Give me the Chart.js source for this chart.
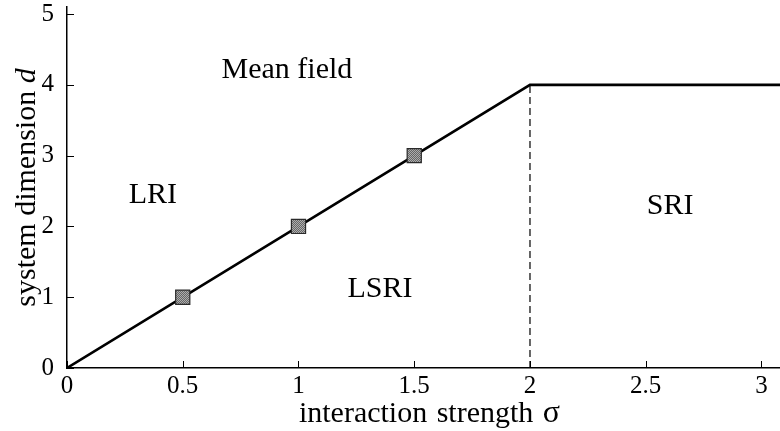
<!DOCTYPE html>
<html>
<head>
<meta charset="utf-8">
<script src="https://cdn.jsdelivr.net/npm/chart.js@4.4.1/dist/chart.umd.min.js"></script>
<style>
  html, body { margin: 0; padding: 0; background: #fff; overflow: hidden; }
  #c { display: block; }
</style>
</head>
<body>
<canvas id="c" width="780" height="431"></canvas>
<script>
// ---- data ----
const boundarySigma = [0, 2, 3.1];
const boundaryD = [0, 4, 4];
const markerSigma = [0.5, 1, 1.5];
const markerD = [1, 2, 3];
const dividerSigma = [2, 2];
const dividerD = [0, 4];
const xTickValues = [0, 0.5, 1, 1.5, 2, 2.5, 3];
const yTickValues = [0, 1, 2, 3, 4, 5];
const regionNames = ["Mean field", "LRI", "SRI", "LSRI"];
const regionSigma = [0.950, 0.371, 2.605, 1.352];
const regionD = [4.10, 2.33, 2.18, 1.00];
const xTitleWords = ["interaction", "strength", "σ"];
const yTitleWords = ["system", "dimension", "d"];

const FONT = "'Liberation Serif', 'Times New Roman', serif";

function toPts(xs, ys) { return xs.map((x, i) => ({ x: x, y: ys[i] })); }

// dithered gray fill for markers
const pc = document.createElement('canvas');
pc.width = 2; pc.height = 2;
const pctx = pc.getContext('2d');
pctx.fillStyle = '#666666'; pctx.fillRect(0, 0, 2, 2);
pctx.fillStyle = '#adadad'; pctx.fillRect(0, 0, 1, 1); pctx.fillRect(1, 1, 1, 1);
const markerFill = pctx.createPattern(pc, 'repeat');

// draw words centred on (0,0) in the current transform; gap = extra space after normal space
function drawWords(ctx, words, fonts, extraGap) {
  ctx.font = fonts[0];
  const space = ctx.measureText(' ').width;
  const gap = space + extraGap;
  const widths = words.map((w, i) => { ctx.font = fonts[i]; return ctx.measureText(w).width; });
  const total = widths.reduce((a, b) => a + b, 0) + gap * (words.length - 1);
  let x = -total / 2;
  ctx.textAlign = 'left';
  words.forEach((w, i) => {
    ctx.font = fonts[i];
    ctx.fillText(w, x, 0);
    x += widths[i] + gap;
  });
}

const decorPlugin = {
  id: 'decor',
  afterDraw(chart) {
    const ctx = chart.ctx;
    const xs = chart.scales.x, ys = chart.scales.y;
    const area = chart.chartArea;
    ctx.save();
    // inward tick marks
    ctx.strokeStyle = '#000';
    ctx.lineWidth = 1;
    xs.ticks.forEach(t => {
      const px = Math.round(xs.getPixelForValue(t.value)) + 0.5;
      ctx.beginPath(); ctx.moveTo(px, area.bottom); ctx.lineTo(px, area.bottom - 7); ctx.stroke();
    });
    ys.ticks.forEach(t => {
      const py = Math.round(ys.getPixelForValue(t.value)) + 0.5;
      ctx.beginPath(); ctx.moveTo(area.left, py); ctx.lineTo(area.left + 7, py); ctx.stroke();
    });
    // region labels
    ctx.fillStyle = '#000';
    ctx.font = '30px ' + FONT;
    ctx.textAlign = 'center';
    ctx.textBaseline = 'alphabetic';
    regionNames.forEach((n, i) => {
      ctx.fillText(n, xs.getPixelForValue(regionSigma[i]), ys.getPixelForValue(regionD[i]));
    });
    // x title
    ctx.save();
    ctx.translate((area.left + area.right) / 2 + 6, 422);
    drawWords(ctx, xTitleWords, ['30px ' + FONT, '30px ' + FONT, '32px ' + FONT], 2);
    ctx.restore();
    // y title (italic d)
    ctx.save();
    ctx.translate(35, (area.top + area.bottom) / 2);
    ctx.rotate(-Math.PI / 2);
    drawWords(ctx, yTitleWords, ['30px ' + FONT, '30px ' + FONT, 'italic 30px ' + FONT], 0);
    ctx.restore();
    ctx.restore();
  }
};

new Chart(document.getElementById('c'), {
  type: 'scatter',
  data: {
    datasets: [
      {
        data: toPts(markerSigma, markerD),
        showLine: false,
        pointStyle: 'rect',
        pointRadius: 10,
        pointHoverRadius: 10,
        backgroundColor: markerFill,
        borderColor: '#2a2a2a',
        pointBorderWidth: 1.2
      },
      {
        data: toPts(boundarySigma, boundaryD),
        showLine: true,
        borderColor: '#000',
        borderWidth: 2.6,
        pointRadius: 0,
        fill: false,
        tension: 0
      },
      {
        data: toPts(dividerSigma, dividerD),
        showLine: true,
        borderColor: '#000',
        borderWidth: 1.2,
        borderDash: [7, 4],
        pointRadius: 0,
        fill: false
      }
    ]
  },
  options: {
    responsive: false,
    animation: false,
    devicePixelRatio: 1,
    layout: { autoPadding: false, padding: { top: 7, right: 0, left: 0, bottom: 0 } },
    plugins: { legend: { display: false }, tooltip: { enabled: false } },
    scales: {
      x: {
        type: 'linear',
        min: 0,
        max: 3.08,
        grid: { display: false },
        border: { display: true, color: '#000', width: 1.5 },
        afterBuildTicks(scale) { scale.ticks = xTickValues.map(v => ({ value: v })); },
        afterFit(scale) {
          scale.height = 63;
          scale.paddingLeft = 0; scale.paddingRight = 0;
          scale.paddingTop = 0; scale.paddingBottom = 0;
        },
        ticks: {
          color: '#000',
          font: { family: FONT, size: 25 },
          padding: -5,
          maxRotation: 0,
          autoSkip: false,
          callback: v => String(v)
        }
      },
      y: {
        type: 'linear',
        min: 0,
        max: 5.1,
        grid: { display: false },
        border: { display: true, color: '#000', width: 1.5 },
        afterBuildTicks(scale) { scale.ticks = yTickValues.map(v => ({ value: v })); },
        afterFit(scale) {
          scale.width = 67;
          scale.paddingLeft = 0; scale.paddingRight = 0;
          scale.paddingTop = 0; scale.paddingBottom = 0;
        },
        ticks: {
          color: '#000',
          font: { family: FONT, size: 25 },
          padding: 5,
          autoSkip: false,
          callback: v => String(v)
        }
      }
    }
  },
  plugins: [decorPlugin]
});
</script>
</body>
</html>
